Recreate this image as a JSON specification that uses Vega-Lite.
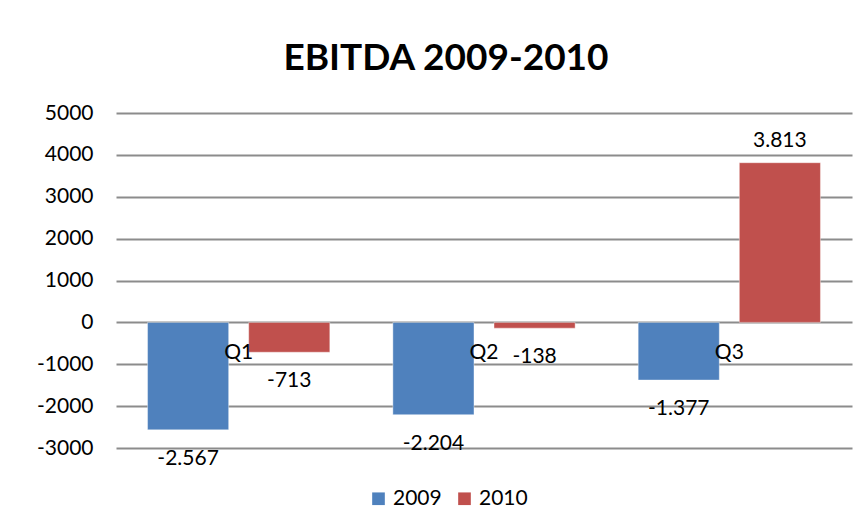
{
  "$schema": "https://vega.github.io/schema/vega-lite/v6.json",
  "autosize": {"type": "none"},
  "width": 736,
  "height": 335,
  "padding": {"left": 116, "top": 113, "right": 14, "bottom": 77},
  "background": "white",
  "title": {
    "text": "EBITDA 2009-2010",
    "font": "Lato",
    "fontSize": 37,
    "fontWeight": "bold",
    "color": "black",
    "anchor": "middle",
    "dx": -38,
    "offset": 24
  },
  "data": {
    "values": [
      {"quarter": "Q1", "year": "2009", "value": -2567},
      {"quarter": "Q1", "year": "2010", "value": -713},
      {"quarter": "Q2", "year": "2009", "value": -2204},
      {"quarter": "Q2", "year": "2010", "value": -138},
      {"quarter": "Q3", "year": "2009", "value": -1377},
      {"quarter": "Q3", "year": "2010", "value": 3813}
    ]
  },
  "encoding": {
    "x": {
      "field": "quarter",
      "type": "nominal",
      "title": null,
      "scale": {"paddingInner": 0.257, "paddingOuter": 0.1286},
      "axis": {
        "orient": "bottom",
        "offset": -126,
        "domain": false,
        "ticks": false,
        "labelAngle": 0,
        "labelPadding": 30,
        "labelFont": "Lato",
        "labelFontSize": 21,
        "labelColor": "black",
        "labelBaseline": "middle",
        "zindex": 2
      }
    },
    "xOffset": {
      "field": "year",
      "type": "nominal",
      "scale": {"paddingInner": 0.198, "paddingOuter": 0}
    },
    "y": {
      "field": "value",
      "type": "quantitative",
      "title": null,
      "scale": {"domain": [-3000, 5000], "nice": false, "zero": false},
      "axis": {
        "values": [-3000, -2000, -1000, 0, 1000, 2000, 3000, 4000, 5000],
        "format": "d",
        "domain": false,
        "ticks": false,
        "labelPadding": 23,
        "labelFont": "Lato",
        "labelFontSize": 21,
        "labelColor": "black",
        "grid": true,
        "gridColor": "#8c8c8c",
        "gridWidth": 2,
        "gridOpacity": 1
      }
    }
  },
  "layer": [
    {
      "mark": {"type": "bar", "stroke": "#ffffff", "strokeOpacity": 0.4, "strokeWidth": 1},
      "encoding": {
        "color": {
          "field": "year",
          "type": "nominal",
          "scale": {"domain": ["2009", "2010"], "range": ["#4F81BD", "#C0504D"]},
          "legend": {
            "title": null,
            "orient": "none",
            "direction": "horizontal",
            "legendX": 252,
            "legendY": 375,
            "symbolType": "square",
            "symbolSize": 160,
            "symbolStrokeWidth": 0,
            "labelFont": "Lato",
            "labelFontSize": 21,
            "labelColor": "black",
            "columnPadding": 12,
            "labelOffset": 4
          }
        }
      }
    },
    {
      "transform": [{"filter": "datum.value < 0"}],
      "mark": {"type": "text", "baseline": "top", "dy": 18, "font": "Lato", "fontSize": 21, "color": "black"},
      "encoding": {"text": {"field": "value", "type": "quantitative", "format": ",d"}}
    },
    {
      "transform": [{"filter": "datum.value >= 0"}],
      "mark": {"type": "text", "baseline": "bottom", "dy": -12, "font": "Lato", "fontSize": 21, "color": "black"},
      "encoding": {"text": {"field": "value", "type": "quantitative", "format": ",d"}}
    }
  ],
  "config": {
    "view": {"stroke": null},
    "locale": {
      "number": {"decimal": ",", "thousands": ".", "grouping": [3], "currency": ["", ""], "minus": "-"}
    }
  }
}
